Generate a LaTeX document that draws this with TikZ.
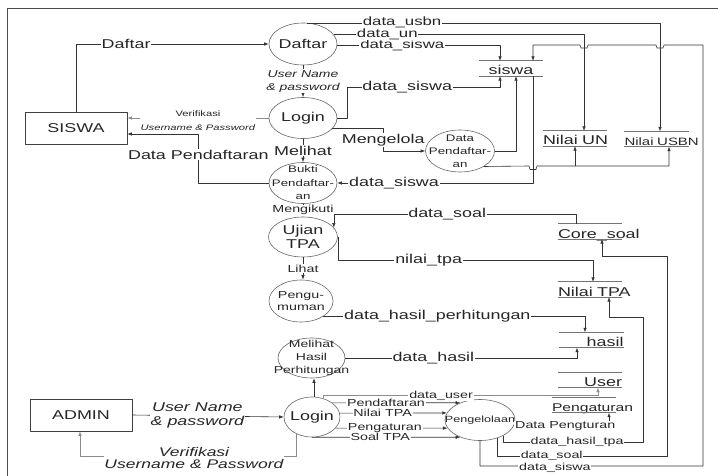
\documentclass[tikz,border=0pt]{standalone}
\usepackage{fontspec}
\setmainfont{Liberation Sans}[FakeStretch=1.4]
\usetikzlibrary{shapes.geometric,arrows.meta}
\newcommand\fbig{\fontsize{12.8}{14}\selectfont}
\newcommand\fmid{\fontsize{10.2}{12.5}\selectfont}
\newcommand\fsml{\fontsize{8}{14}\selectfont}
\begin{document}
\begin{tikzpicture}[x=1pt,y=-1pt,>={Latex[length=4.5pt,width=3.5pt]},line join=round,font=\fbig,
  flow/.style={->,draw=black!80,line width=0.6pt},
  gflow/.style={flow,draw=black!45},
  proc/.style={ellipse,draw=black!60,line width=0.6pt,inner sep=0pt},
  ptext/.style={align=center,inner sep=0pt,text=black!85},
  entity/.style={rectangle,draw=black!75,line width=0.6pt,minimum width=102pt,minimum height=32pt,text=black!85},
  store/.style={text width=64pt,inner xsep=0pt,inner ysep=1pt,text height=13pt,text depth=0pt,align=center,text=black!85},
  lbl/.style={fill=white,inner sep=0.8pt,text=black!85,align=center},
  toplbl/.style={lbl,inner ysep=0pt,font=\fontsize{12}{13}\selectfont}]
\useasboundingbox (0,0) rectangle (718,476);
\draw[black!70,line width=0.8pt] (718,8) -- (7,8) -- (7,476);

\node[entity] (siswaE) at (76,128) {SISWA};
\node[entity] (admin) at (81,415) {ADMIN};

\node[proc,minimum width=68pt,minimum height=42pt,label={[ptext]center:Daftar}] (daftar) at (303,44) {};
\node[proc,minimum width=68pt,minimum height=41pt,label={[ptext]center:Login}] (login1) at (303,118) {};
\node[proc,minimum width=68pt,minimum height=41pt,label={[ptext,font=\fontsize{9.5}{13.5}\selectfont]center:{Bukti\\Pendaftar-\\an}}] (bukti) at (303,183) {};
\node[proc,minimum width=69pt,minimum height=40pt,label={[ptext]center:{Ujian\\TPA}}] (ujian) at (303,237) {};
\node[proc,minimum width=64pt,minimum height=42pt,label={[ptext,font=\fontsize{10.2}{12}\selectfont]center:{Pengu-\\muman}}] (pengumuman) at (301,301) {};
\node[proc,minimum width=67pt,minimum height=40pt,label={[ptext,font=\fontsize{10}{13}\selectfont]center:{Melihat\\Hasil\\Perhitungan}}] (melihat) at (311.5,358) {};
\node[proc,minimum width=56pt,minimum height=40pt,label={[ptext]center:Login}] (login2) at (312,417) {};
\node[proc,minimum width=70pt,minimum height=41pt,label={[ptext,font=\fontsize{9}{10}\selectfont]center:Pengelolaan}] (kelola) at (480,420) {};
\node[proc,minimum width=69pt,minimum height=42pt,label={[ptext,font=\fontsize{9.5}{13}\selectfont]center:{Data\\Pendaftar-\\an}}] (dpend) at (460,151) {};

\node[store] (siswa) at (511,68.5) {siswa};
\node[store] (nun) at (575,138.5) {\mbox{Nilai UN}};
\node[store,font=\fontsize{10.7}{12}\selectfont] (nusbn) at (656.5,139) {\mbox{Nilai USBN}};
\node[store] (core) at (590,231.5) {\mbox{Core\_soal}};
\node[store] (ntpa) at (590,289.5) {\mbox{Nilai TPA}};
\node[store,align=right] (hasil) at (591.5,340) {hasil};
\node[store,align=right] (user) at (590,380) {User};
\node[store,font=\fontsize{11.2}{12}\selectfont] (atur) at (584,405) {\mbox{Pengaturan}};
\foreach \s in {siswa,nun,nusbn,core,ntpa,hasil,user,atur}
  \draw[black!55,line width=0.7pt] (\s.north west) -- (\s.north east) (\s.south west) -- (\s.south east);

\draw[flow] (siswaE.north) |- (daftar.west) node[lbl,pos=0.63] {Daftar};
\draw[flow] (daftar) -- (login1) node[midway,lbl,font=\fontsize{10}{13}\selectfont\itshape] {User Name\\\& password};
\draw[gflow] (login1.west) -- (login1.west -| siswaE.east) node[midway,lbl,yshift=-3pt,font=\fsml] {Verifikasi\\\textit{Username \& Password}};
\draw[flow] (bukti.west) -| ([xshift=71pt,yshift=-6pt]siswaE.east) node[lbl,pos=0.79] {Data Pendaftaran} -- ([yshift=-6pt]siswaE.east);
\draw[flow] (login1) -- (bukti) node[midway,lbl] {Melihat};
\draw[flow] (bukti) -- (ujian) node[midway,lbl,font=\fmid] {Mengikuti};
\draw[flow] (ujian) -- (ujian.south |- pengumuman.north) node[midway,lbl,font=\fmid] {Lihat};

\draw[flow] (daftar.-3) -| ([xshift=-11pt]siswa.north) node[toplbl,pos=0.2] {data\_siswa};
\draw[flow] (daftar.17) -| ([xshift=9pt]nun.north) node[toplbl,pos=0.107] {data\_un};
\draw[flow] (daftar.80) -| ([xshift=3.5pt]nusbn.north) node[toplbl,pos=0.135] {data\_usbn};
\draw[flow] (login1.east) -- ++(10,0) |- ([xshift=-11pt,yshift=-11pt]siswa.south) node[lbl,pos=0.696] {data\_siswa} -- ([xshift=-11pt]siswa.south);
\draw[flow] (login1.-20) -| ([xshift=-42pt]dpend.west) node[lbl,pos=0.75] {Mengelola} -- (dpend.west);
\draw[flow] (dpend.east) -| ([xshift=5pt]siswa.south);
\draw[flow] (dpend.-33) -- (529,166) -- (530,169.5) -- (536,169.5) -- (537,166) -| ([xshift=12.5pt]nusbn.south);
\draw[flow] (nun.south |- dpend.-33) -- (nun.south);
\draw[flow] ([xshift=22pt]siswa.south) |- (bukti.east) node[lbl,pos=0.855] {data\_siswa};

\draw[flow] ([xshift=-14pt]core.north) -- ++(0,-10) -| (ujian.17) node[lbl,pos=0.266] {data\_soal};
\draw[flow] (ujian.east) |- ([xshift=3pt,yshift=22pt]ntpa.north) node[lbl,pos=0.678] {nilai\_tpa} -- ([xshift=3pt]ntpa.north);
\draw[flow] (pengumuman.-35) -| ([xshift=-6.5pt]hasil.north) node[lbl,pos=0.218] {data\_hasil\_perhitungan};
\draw[flow] (melihat.east) -| ([xshift=-14.5pt]hasil.south) node[lbl,pos=0.19] {data\_hasil};

\draw[flow] (admin.east) -- (login2.west) node[lbl,pos=0.43,font=\fbig\itshape] {User Name\\\& password};
\draw[gflow] (login2.228) |- ([xshift=-1pt,yshift=-25pt]admin.south) node[lbl,pos=0.737,yshift=-1.5pt,font=\fontsize{12.5}{12}\selectfont\itshape] {Verifikasi\\Username \& Password} -- ([xshift=-1pt]admin.south);
\draw[flow] ([xshift=2pt]login2.north) -- ([xshift=2pt]login2.north |- melihat.south);

\draw[gflow] (login2.58) |- ([xshift=8pt,yshift=-8pt]user.south) node[lbl,pos=0.714,font=\fmid] {data\_user} -- ([xshift=8pt]user.south);
\draw[flow] (login2.35) -- (kelola.139) node[lbl,pos=0.42,font=\fmid] {Pendaftaran};
\draw[flow] (login2.8) -- (kelola.168) node[lbl,pos=0.40,font=\fmid] {Nilai TPA};
\draw[flow] (login2.-25) -- (kelola.194) node[lbl,pos=0.44,font=\fmid] {Pengaturan};
\draw[flow] (login2.south) -- (kelola.221) node[lbl,pos=0.46,font=\fmid] {Soal TPA};

\draw[flow] (kelola.-10) -| ([xshift=25pt]atur.south) node[lbl,pos=0.27,font=\fmid] {Data Pengturan};
\draw[flow] (kelola.-34) |- (643,442) node[lbl,pos=0.764,font=\fmid] {data\_hasil\_tpa} |- ([xshift=19pt,yshift=-20pt]ntpa.south) -- ([xshift=19pt]ntpa.south);
\draw[flow] (kelola.-46) |- (667,456) node[lbl,pos=0.66,font=\fmid] {data\_soal} |- ([xshift=12pt,yshift=-17pt]core.south) -- ([xshift=12pt]core.south);
\draw[flow] (kelola.south) |- (703,466) node[lbl,pos=0.668,yshift=-2pt,font=\fmid] {data\_siswa} -- (703,45) -- (664,45) -- (663,48) -- (657,48) -- (656,45) -- (588,45) -- (587,48) -- (581,48) -- (580,45) -| ([xshift=22pt]siswa.north);
\end{tikzpicture}
\end{document}
